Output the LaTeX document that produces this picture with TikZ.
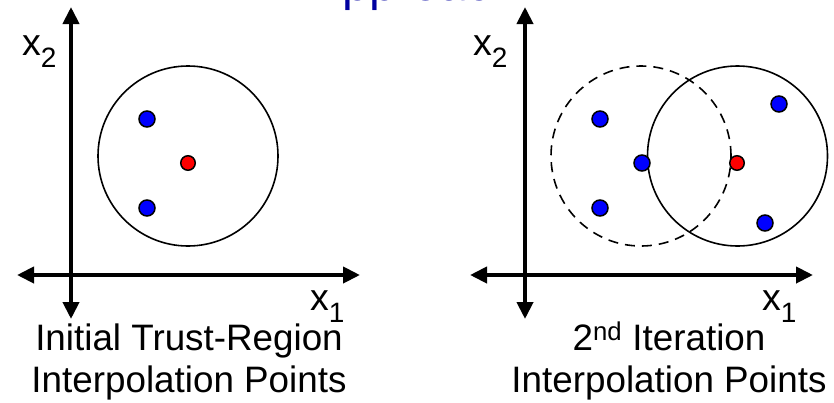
\documentclass[tikz,border=0pt]{standalone}
\usepackage{fontspec}
\setmainfont{Liberation Sans}
\usetikzlibrary{arrows.meta}
\definecolor{titleblue}{RGB}{0,0,160}
\definecolor{ptblue}{RGB}{0,0,255}
\definecolor{ptred}{RGB}{255,0,0}
\tikzset{
  axis/.style={line width=4pt, {Triangle[length=17pt,width=16pt]}-{Triangle[length=17pt,width=16pt]}},
  region/.style={line width=1.6pt, draw=black},
  oldregion/.style={line width=1.6pt, draw=black, dash pattern=on 10pt off 7pt},
  bluept/.style={circle, draw=black, line width=1.5pt, fill=ptblue, minimum size=16pt, inner sep=0pt},
  redpt/.style={circle, draw=black, line width=1.5pt, fill=ptred, minimum size=14.5pt, inner sep=0pt},
  lbl/.style={anchor=base west, inner sep=0pt, font=\fontsize{37.5}{40}\selectfont},
  captext/.style={align=center, inner sep=0pt, anchor=base, font=\fontsize{36.8}{42}\selectfont},
  ttl/.style={anchor=base west, inner sep=0pt, text=titleblue, font=\fontsize{48.5}{50}\selectfont}
}
\newcommand{\sublbl}[1]{\raisebox{-12pt}{\fontsize{28}{28}\selectfont #1}}
\begin{document}
\begin{tikzpicture}[x=1pt,y=-1pt]
\clip (0,0) rectangle (834,402);
\fill[white] (0,0) rectangle (834,402);
% title (cropped at the top edge, as in the reference)
\node[ttl] (title) at (310,0) {Approach};
% ---------- left panel ----------
\coordinate (Lyt) at (71,7);
\coordinate (Lyb) at (71,319);
\coordinate (Lxl) at (17,275);
\coordinate (Lxr) at (360,275);
\draw[axis] (Lyb) -- (Lyt);
\draw[axis] (Lxl) -- (Lxr);
\node[lbl] (Lx2) at (22,55) {x\sublbl{2}};
\node[lbl] (Lx1) at (310,310) {x\sublbl{1}};
\node[region, circle, minimum size=180pt, inner sep=0pt] (Lc) at (188,156) {};
\node[bluept] (Lb1) at (147,119) {};
\node[bluept] (Lb2) at (147,208) {};
\node[redpt] (Lr) at (188,163) {};
\node[captext] (Lcap) at (189,392) {Initial Trust-Region\\Interpolation Points};
% ---------- right panel ----------
\coordinate (Ryt) at (525,7);
\coordinate (Ryb) at (525,319);
\coordinate (Rxl) at (470,275);
\coordinate (Rxr) at (813,275);
\draw[axis] (Ryb) -- (Ryt);
\draw[axis] (Rxl) -- (Rxr);
\node[lbl] (Rx2) at (473,55) {x\sublbl{2}};
\node[lbl] (Rx1) at (762,310) {x\sublbl{1}};
\node[oldregion, circle, minimum size=180pt, inner sep=0pt] (Rc0) at (641,156) {};
\node[region, circle, minimum size=180pt, inner sep=0pt] (Rc1) at (737.5,156) {};
\node[bluept] (Rb1) at (600,119) {};
\node[bluept] (Rb2) at (600,208) {};
\node[bluept] (Rb3) at (642,163) {};
\node[bluept] (Rb4) at (779,104) {};
\node[bluept] (Rb5) at (765,223) {};
\node[redpt] (Rr) at (737,163) {};
\node[captext] (Rcap) at (669,392) {2\textsuperscript{nd} Iteration\\Interpolation Points};
\end{tikzpicture}
\end{document}
